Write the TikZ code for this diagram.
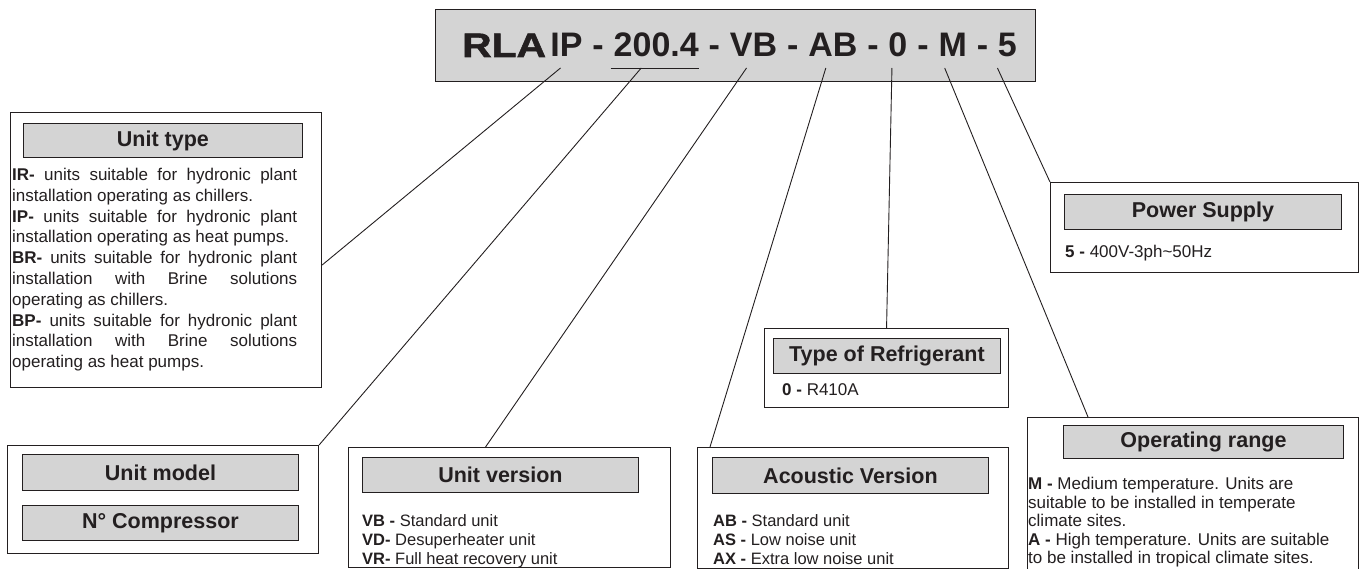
\documentclass[tikz,border=0pt]{standalone}
\usepackage{fontspec}
\setmainfont{Liberation Sans}
\newfontfamily\rlafont{Liberation Sans}[FakeStretch=1.2,FakeBold=1.6]
\usetikzlibrary{positioning}
\definecolor{ink}{RGB}{35,31,32}
\definecolor{boxgray}{RGB}{212,212,212}
\hbadness=10000
\tikzset{every node/.style={font=\fontsize{17}{20.8}\selectfont, text=ink},
  outerbox/.style={draw=ink, line width=1.1pt, fill=white, inner sep=0pt, anchor=north west},
  headbox/.style={draw=ink, line width=0.9pt, fill=boxgray, inner sep=0pt, minimum width=277pt,
    minimum height=35pt, font=\fontsize{21.5}{24}\selectfont\bfseries},
  bodytext/.style={inner sep=0pt, align=left},
  smalltext/.style={inner sep=0pt, align=left, font=\fontsize{16.5}{19.2}\selectfont},
  code/.style={inner sep=0pt, font=\fontsize{34}{40}\selectfont\bfseries},
  lead/.style={draw=ink, line width=0.9pt}}

\begin{document}
\begin{tikzpicture}[x=1pt, y=-1pt]
  \useasboundingbox (0,0) rectangle (1360,569);
  \clip (0,0) rectangle (1360,569);

  % code bar
  \node[outerbox, fill=boxgray, line width=1.3pt, minimum width=600pt, minimum height=72pt] (codebar) at (435,9) {};
  \node[code, anchor=base west] (rla) at (462,57) {\rlafont\bfseries RLA};
  \node[code, base right=4pt of rla] (cIP) {IP};
  \node[code, base right=9.5pt of cIP] (d1) {-};
  \node[code, base right=9.5pt of d1] (c200) {200.4};
  \node[code, base right=9.5pt of c200] (d2) {-};
  \node[code, base right=9.5pt of d2] (cVB) {VB};
  \node[code, base right=9.5pt of cVB] (d3) {-};
  \node[code, base right=9.5pt of d3] (cAB) {AB};
  \node[code, base right=9.5pt of cAB] (d4) {-};
  \node[code, base right=9.5pt of d4] (c0) {0};
  \node[code, base right=9.5pt of c0] (d5) {-};
  \node[code, base right=9.5pt of d5] (cM) {M};
  \node[code, base right=9.5pt of cM] (d6) {-};
  \node[code, base right=9.5pt of d6] (c5) {5};
  \draw[lead] ([xshift=-3pt,yshift=-11pt]c200.base west) -- ([yshift=-11pt]c200.base east);

  % unit type
  \node[outerbox, minimum width=311pt, minimum height=275pt] (ut) at (10,112) {};
  \node[headbox, minimum width=279pt, minimum height=34pt, below right=11pt and 13pt of ut.north west] (uthead) {Unit type};
  \node[bodytext, align=justify, text width=285pt, below right=56pt and 2pt of ut.north west] (uttext)
    {\textbf{IR-} units suitable for hydronic plant\linebreak installation operating as chillers.\par
     \textbf{IP-} units suitable for hydronic plant\linebreak installation operating as heat pumps.\par
     \textbf{BR-} units suitable for hydronic plant\linebreak installation with Brine solutions\linebreak operating as chillers.\par
     \textbf{BP-} units suitable for hydronic plant\linebreak installation with Brine solutions\linebreak operating as heat pumps.};

  % unit model
  \node[outerbox, minimum width=311pt, minimum height=108pt] (um) at (7,445) {};
  \node[headbox, minimum width=276pt, minimum height=36pt, below right=9pt and 15pt of um.north west] (umhead) {Unit model};
  \node[headbox, minimum width=276pt, below=14pt of umhead] (umcomp) {N° Compressor};

  % unit version
  \node[outerbox, minimum width=322pt, minimum height=120pt] (uv) at (348,447) {};
  \node[headbox, minimum width=276pt, below right=10pt and 14pt of uv.north west] (uvhead) {Unit version};
  \node[smalltext, below right=67pt and 14pt of uv.north west] (uvtext)
    {\textbf{VB -} Standard unit\\ \textbf{VD-} Desuperheater unit\\ \textbf{VR-} Full heat recovery unit};

  % acoustic version
  \node[outerbox, minimum width=311pt, minimum height=121pt] (av) at (697,447) {};
  \node[headbox, minimum width=276pt, minimum height=36pt, below right=10pt and 15pt of av.north west] (avhead) {Acoustic Version};
  \node[smalltext, below right=67pt and 16pt of av.north west] (avtext)
    {\textbf{AB -} Standard unit\\ \textbf{AS -} Low noise unit\\ \textbf{AX -} Extra low noise unit};

  % refrigerant
  \node[outerbox, minimum width=244pt, minimum height=79pt] (rf) at (764,328) {};
  \node[headbox, minimum width=227pt, below right=10pt and 9pt of rf.north west] (rfhead) {Type of Refrigerant};
  \node[bodytext, below right=55pt and 18pt of rf.north west] (rftext) {\textbf{0 -} R410A};

  % power supply
  \node[outerbox, minimum width=308pt, minimum height=90pt] (ps) at (1050,182) {};
  \node[headbox, below right=12pt and 14pt of ps.north west] (pshead) {Power Supply};
  \node[bodytext, below right=63pt and 15pt of ps.north west] (pstext) {\textbf{5 -} 400V-3ph\textasciitilde 50Hz};

  % operating range
  \node[outerbox, minimum width=331pt, minimum height=160pt] (oprange) at (1027,417) {};
  \node[headbox, minimum width=280pt, minimum height=33pt, below right=8pt and 36pt of oprange.north west] (orhead) {Operating range};
  \node[bodytext, font=\fontsize{17}{18.6}\selectfont, below right=60pt and 1pt of oprange.north west] (ortext)
    {\textbf{M -} Medium temperature. Units are\\ suitable to be installed in temperate\\ climate sites.\\
     \textbf{A -} High temperature. Units are suitable\\ to be installed in tropical climate sites.};

  % leader lines
  \path[lead] ([xshift=-6pt,yshift=-11pt]cIP.base) edge ([yshift=-15pt]ut.east)
    ([xshift=-15pt,yshift=-11pt]c200.base) edge (um.north east)
    ([xshift=-7pt,yshift=-11pt]cVB.base) edge ([xshift=-24pt]uv.north)
    ([xshift=-7pt,yshift=-11pt]cAB.base) edge ([xshift=13pt]av.north west)
    ([xshift=-6pt,yshift=-11pt]c0.base) edge (rf.north)
    ([xshift=-8pt,yshift=-11pt]cM.base) edge ([xshift=61pt]oprange.north west)
    ([xshift=-10pt,yshift=-11pt]c5.base) edge (ps.north west);
\end{tikzpicture}
\end{document}
